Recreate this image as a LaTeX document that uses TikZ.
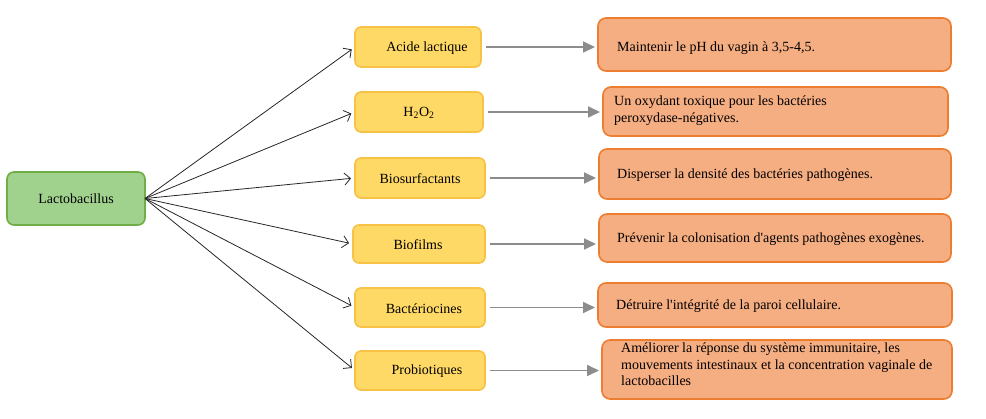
\documentclass[tikz,border=0pt]{standalone}
\usepackage{fontspec}
\setmainfont{Liberation Serif}
\usetikzlibrary{arrows.meta}
\definecolor{gfill}{RGB}{160,210,142}
\definecolor{gdraw}{RGB}{112,173,71}
\definecolor{yfill}{RGB}{255,217,102}
\definecolor{ydraw}{RGB}{247,194,70}
\definecolor{ofill}{RGB}{245,173,130}
\definecolor{odraw}{RGB}{237,125,49}
\definecolor{garrow}{RGB}{140,140,140}
\tikzset{
  gbox/.style={draw=gdraw,fill=gfill,line width=1.6pt,rounded corners=7pt,inner sep=0pt,outer sep=0pt},
  ybox/.style={draw=ydraw,fill=yfill,line width=1.6pt,rounded corners=6pt,inner sep=0pt,outer sep=0pt},
  obox/.style={draw=odraw,fill=ofill,line width=1.6pt,rounded corners=8pt,inner sep=0pt,outer sep=0pt},
  lbl/.style={inner sep=0pt,font=\fontsize{14}{17}\selectfont},
  otxt/.style={inner sep=0pt,anchor=west,align=left,font=\fontsize{14}{16.5}\selectfont},
  blk/.style={draw=black!85,line width=0.8pt,-{Straight Barb[length=6pt,width=12pt]},shorten >=4pt},
  gry/.style={draw=garrow,line width=1.8pt,-{Triangle[length=12pt,width=11pt]}}
}
\begin{document}
\begin{tikzpicture}[x=1pt,y=-1pt]
\useasboundingbox (0,0) rectangle (986,419);
% green
\node[gbox,minimum width=138pt,minimum height=53pt] (L) at (76,198.5) {};
\node[lbl] (Lt) at (76,199) {Lactobacillus};
% yellow
\node[ybox,minimum width=126pt,minimum height=40pt] (y1) at (418,47) {};
\node[ybox,minimum width=128pt,minimum height=40pt] (y2) at (419,112) {};
\node[ybox,minimum width=130pt,minimum height=40pt] (y3) at (420,178) {};
\node[ybox,minimum width=132pt,minimum height=38pt] (y4) at (419,244) {};
\node[ybox,minimum width=130pt,minimum height=39pt] (y5) at (420,307.5) {};
\node[ybox,minimum width=130pt,minimum height=39pt] (y6) at (420,370.5) {};
\node[lbl] (t1) at (427,48) {Acide lactique};
\node[lbl] (t2) at (419,113) {H\textsubscript{2}O\textsubscript{2}};
\node[lbl] (t3) at (420,179) {Biosurfactants};
\node[lbl] (t4) at (418,245) {Biofilms};
\node[lbl] (t5) at (424,308.5) {Bactériocines};
\node[lbl] (t6) at (427,371.5) {Probiotiques};
% orange
\node[obox,minimum width=353pt,minimum height=53pt] (o1) at (774.5,44.5) {};
\node[obox,minimum width=345pt,minimum height=49pt] (o2) at (775.5,111.5) {};
\node[obox,minimum width=352pt,minimum height=50pt] (o3) at (775,174) {};
\node[obox,minimum width=352pt,minimum height=48pt] (o4) at (775,238) {};
\node[obox,minimum width=354pt,minimum height=44pt] (o5) at (775,305) {};
\node[obox,minimum width=350pt,minimum height=59pt] (o6) at (777,369.5) {};
\node[otxt] (u1) at (617,48) {Maintenir le pH du vagin à 3,5-4,5.};
\node[otxt] (u2) at (614,110.5) {Un oxydant toxique pour les bactéries\\peroxydase-négatives.};
\node[otxt] (u3) at (617,175) {Disperser la densité des bactéries pathogènes.};
\node[otxt] (u4) at (617,239) {Prévenir la colonisation d\textquotesingle agents pathogènes exogènes.};
\node[otxt] (u5) at (616,306) {Détruire l\textquotesingle intégrité de la paroi cellulaire.};
\node[otxt] (u6) at (621,364.5) {Améliorer la réponse du système immunitaire, les\\mouvements intestinaux et la concentration vaginale de\\lactobacilles};
% black arrows
\foreach \i in {1,...,6} {\draw[blk] (L.east) -- (y\i.west);}
% gray arrows
\foreach \i in {1,...,6} {\draw[gry,shorten <=5pt,shorten >=3pt] (y\i.east) -- (o\i.west |- y\i.east);}
\end{tikzpicture}
\end{document}
